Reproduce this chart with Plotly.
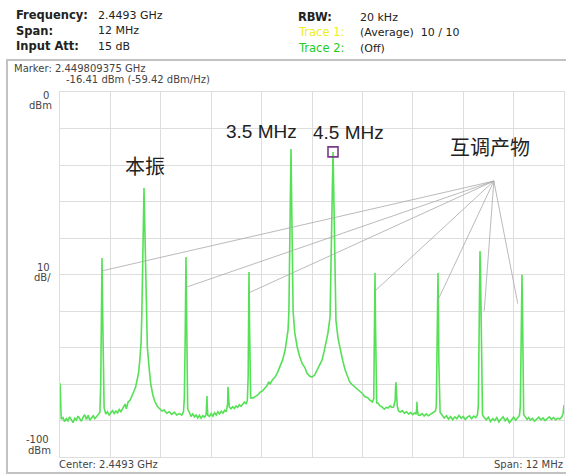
import plotly.graph_objects as go

# ---------------- data ----------------
center_ghz = 2.4493
span_mhz = 12

# spectrum trace: frequency offset from centre (MHz) and level (dBm)
freq_mhz = [
    -6.00, -5.99, -5.97, -5.93, -5.89, -5.85, -5.81, -5.77, -5.73, -5.69,
    -5.65, -5.61, -5.57, -5.53, -5.49, -5.45, -5.41, -5.37, -5.33, -5.29,
    -5.25, -5.21, -5.17, -5.13, -5.09, -5.05, -5.03, -5.015, -5.00, -4.985,
    -4.97, -4.95, -4.91, -4.87, -4.83, -4.79, -4.75, -4.71, -4.67, -4.63,
    -4.59, -4.55, -4.51, -4.47, -4.45, -4.42, -4.38, -4.33, -4.28, -4.24,
    -4.20, -4.16, -4.13, -4.10, -4.07, -4.05, -4.03, -4.01, -4.00, -3.99,
    -3.97, -3.95, -3.92, -3.88, -3.84, -3.79, -3.74, -3.68, -3.62, -3.57,
    -3.52, -3.46, -3.40, -3.34, -3.28, -3.22, -3.16, -3.10, -3.06, -3.04,
    -3.02, -3.01, -3.00, -2.99, -2.98, -2.96, -2.92, -2.88, -2.84, -2.80,
    -2.76, -2.72, -2.68, -2.64, -2.60, -2.56, -2.52, -2.505, -2.50, -2.495,
    -2.48, -2.44, -2.40, -2.36, -2.32, -2.28, -2.24, -2.20, -2.16, -2.12,
    -2.08, -2.04, -2.01, -2.00, -1.99, -1.97, -1.93, -1.89, -1.85, -1.81,
    -1.77, -1.73, -1.69, -1.65, -1.61, -1.57, -1.54, -1.52, -1.51, -1.50,
    -1.49, -1.48, -1.46, -1.40, -1.34, -1.29, -1.24, -1.18, -1.12, -1.07,
    -1.03, -1.00, -0.94, -0.88, -0.82, -0.76, -0.70, -0.64, -0.60, -0.57,
    -0.55, -0.53, -0.51, -0.50, -0.49, -0.47, -0.45, -0.41, -0.35, -0.29,
    -0.23, -0.17, -0.12, -0.06, 0.00, 0.06, 0.10, 0.14, 0.20, 0.24,
    0.29, 0.33, 0.38, 0.43, 0.45, 0.47, 0.49, 0.50, 0.51, 0.53,
    0.55, 0.57, 0.62, 0.67, 0.73, 0.79, 0.85, 0.90, 0.96, 1.02,
    1.08, 1.14, 1.20, 1.26, 1.32, 1.38, 1.44, 1.47, 1.48, 1.49,
    1.50, 1.51, 1.52, 1.54, 1.57, 1.62, 1.67, 1.72, 1.77, 1.81,
    1.86, 1.90, 1.94, 1.98, 1.99, 2.00, 2.01, 2.03, 2.06, 2.10,
    2.15, 2.20, 2.25, 2.30, 2.35, 2.40, 2.45, 2.48, 2.495, 2.50,
    2.505, 2.53, 2.57, 2.62, 2.67, 2.72, 2.77, 2.81, 2.86, 2.90,
    2.94, 2.96, 2.98, 2.99, 3.00, 3.01, 3.02, 3.05, 3.10, 3.15,
    3.20, 3.25, 3.30, 3.35, 3.40, 3.45, 3.50, 3.55, 3.60, 3.65,
    3.70, 3.75, 3.80, 3.85, 3.90, 3.94, 3.96, 3.98, 3.99, 4.00,
    4.01, 4.02, 4.04, 4.06, 4.10, 4.15, 4.20, 4.25, 4.30, 4.35,
    4.40, 4.45, 4.50, 4.55, 4.60, 4.65, 4.70, 4.75, 4.80, 4.85,
    4.90, 4.94, 4.96, 4.98, 4.99, 5.00, 5.01, 5.02, 5.04, 5.08,
    5.12, 5.16, 5.20, 5.25, 5.30, 5.35, 5.40, 5.45, 5.50, 5.55,
    5.60, 5.65, 5.70, 5.75, 5.80, 5.85, 5.90, 5.95, 5.98, 6.00,
]
level_dbm = [
    -79.8, -84.0, -89.6, -89.2, -90.3, -89.5, -90.1, -89.0, -89.8, -90.6,
    -89.4, -89.9, -88.8, -89.6, -90.2, -89.1, -88.4, -89.7, -88.6, -89.9,
    -89.3, -88.7, -89.5, -89.0, -88.6, -87.8, -80.0, -62.0, -45.5, -60.0,
    -78.0, -86.5, -88.2, -87.6, -88.5, -88.0, -87.3, -88.1, -87.4, -87.9,
    -87.0, -87.6, -86.7, -86.0, -85.5, -86.8, -85.0, -84.4, -83.3, -82.0,
    -80.8, -79.0, -77.0, -73.5, -68.8, -60.0, -45.0, -32.0, -26.3, -32.0,
    -45.0, -60.0, -70.0, -75.3, -80.0, -83.0, -84.8, -86.2, -86.9, -87.4,
    -87.1, -88.0, -87.6, -88.3, -87.7, -88.5, -88.1, -88.5, -87.6, -84.0,
    -68.0, -56.0, -45.2, -56.0, -70.0, -86.8, -87.8, -88.9, -88.2, -89.0,
    -88.5, -89.3, -88.6, -89.4, -88.7, -89.1, -88.3, -86.0, -83.3, -86.0,
    -88.6, -88.9, -88.1, -88.8, -87.9, -88.5, -87.6, -88.2, -87.5, -88.0,
    -87.2, -87.6, -85.5, -80.8, -84.5, -86.3, -86.8, -86.2, -86.7, -86.0,
    -86.4, -85.7, -86.1, -85.4, -85.0, -85.4, -84.6, -78.0, -62.0, -49.3,
    -62.0, -76.0, -83.8, -83.8, -83.3, -83.0, -82.3, -81.9, -81.1, -80.4,
    -79.4, -80.0, -78.8, -78.1, -76.8, -75.3, -73.4, -70.7, -67.5, -65.2,
    -60.0, -45.0, -25.0, -15.6, -25.0, -45.0, -60.0, -66.0, -70.0, -72.6,
    -74.5, -75.5, -77.0, -77.8, -78.1, -77.6, -76.6, -76.0, -74.5, -73.4,
    -71.0, -68.8, -66.0, -61.6, -50.0, -35.0, -22.0, -16.41, -22.0, -35.0,
    -50.0, -62.5, -67.5, -70.7, -73.5, -76.2, -78.3, -79.5, -80.2, -80.8,
    -81.6, -82.2, -82.6, -83.5, -83.7, -84.4, -84.9, -84.0, -74.0, -62.0,
    -49.6, -62.0, -76.0, -85.2, -85.2, -86.0, -86.3, -86.9, -86.4, -86.6,
    -86.0, -86.4, -86.3, -84.5, -81.0, -79.5, -82.0, -86.0, -87.4, -87.7,
    -87.3, -88.0, -87.6, -88.2, -87.8, -88.4, -87.9, -88.3, -86.5, -84.9,
    -87.0, -88.5, -88.6, -88.1, -88.8, -88.2, -88.7, -88.4, -88.0, -87.8,
    -87.4, -86.0, -72.0, -60.0, -49.6, -60.0, -74.0, -87.8, -88.5, -89.3,
    -88.7, -89.6, -88.9, -89.8, -89.0, -89.5, -88.6, -89.4, -88.9, -89.7,
    -89.1, -88.7, -89.5, -88.8, -89.2, -88.4, -86.0, -65.0, -50.0, -43.6,
    -48.0, -60.0, -80.0, -88.5, -89.2, -89.8, -89.1, -90.3, -89.5, -90.0,
    -89.2, -90.4, -89.6, -89.0, -90.1, -89.4, -90.6, -89.7, -89.1, -89.9,
    -89.3, -88.6, -86.0, -70.0, -58.0, -50.1, -58.0, -72.0, -88.4, -89.0,
    -89.7, -89.2, -89.9, -89.4, -90.2, -89.6, -89.1, -89.8, -89.3, -90.0,
    -89.5, -89.0, -89.7, -89.2, -89.8, -89.4, -89.6, -89.0, -88.0, -85.8,
]

# marker 1
marker_mhz = 0.5
marker_dbm = -16.41

# leader lines from the "互调产物" label to intermodulation products
imd_hub = (4.33, -24.4)
imd_target_mhz = [-5.0, -3.0, -1.5, 1.5, 3.0, 4.1, 4.9]
imd_target_dbm = [-49.0, -53.5, -55.0, -54.5, -57.0, -60.0, -58.0]

# y-axis scale labels
y_ref_dbm = 0
y_scale_db = 10
y_bottom_dbm = -100

# ---------------- layout geometry ----------------
W, H = 566, 474
ML, MR, MT, MB = 60, 2, 92, 17
PW, PH = W - ML - MR, H - MT - MB


def px(x):
    return (x - ML) / PW


def py(y):
    return 1 - (y - MT) / PH


FONT = "DejaVu Sans"

fig = go.Figure()
fig.add_trace(go.Scatter(
    x=freq_mhz, y=level_dbm, mode="lines",
    line=dict(color="#55e055", width=1.6),
    hoverinfo="skip", showlegend=False,
))
fig.add_trace(go.Scatter(
    x=[marker_mhz], y=[marker_dbm], mode="markers",
    marker=dict(symbol="square-open", size=10, color="#7a3a8c",
                line=dict(width=1.6, color="#7a3a8c")),
    hoverinfo="skip", showlegend=False,
))

shapes = []
for fx, fy in zip(imd_target_mhz, imd_target_dbm):
    shapes.append(dict(type="line", xref="x", yref="y",
                       x0=imd_hub[0], y0=imd_hub[1], x1=fx, y1=fy,
                       line=dict(color="#a8a8a8", width=0.8), layer="above"))
# instrument panel frame
shapes.append(dict(type="rect", xref="paper", yref="paper",
                   x0=px(7), x1=px(575), y0=py(473), y1=py(60),
                   line=dict(color="#c2c2c2", width=2), layer="below"))

ann = []


def text(s, x, y, size=11, color="#222222", bold=False, anchor="left",
         family=FONT):
    if bold:
        s = "<b>" + s + "</b>"
    ann.append(dict(text=s, x=px(x), y=py(y), xref="paper", yref="paper",
                    xanchor=anchor, yanchor="middle", showarrow=False,
                    font=dict(family=family, size=size, color=color)))


# header
text("Frequency:", 14, 15, 11.5, bold=True)
text(f"{center_ghz} GHz", 96, 15, 11)
text("Span:", 14, 31, 11.5, bold=True)
text(f"{span_mhz} MHz", 96, 31, 11)
text("Input Att:", 14, 46, 11.5, bold=True)
text("15 dB", 96, 46, 11)
text("RBW:", 296, 17, 11.5, bold=True)
text("20 kHz", 358, 17, 11)
text("Trace 1:", 296, 32, 11.5, color="#eeee22")
text("(Average)  10 / 10", 358, 32, 11)
text("Trace 2:", 296, 48, 11.5, color="#22cc22")
text("(Off)", 358, 48, 11)

# marker readout
text("Marker: 2.449809375 GHz", 12, 68, 10, color="#444444")
text(f"{marker_dbm} dBm (-59.42 dBm/Hz)", 64, 80, 10, color="#444444")

# y scale labels
text(f"{y_ref_dbm}", 51, 96, 10, color="#444444", anchor="right")
text("dBm", 54, 106, 10, color="#444444", anchor="right")
text(f"{y_scale_db}", 52, 267, 10, color="#444444", anchor="right")
text("dB/", 53, 277, 10, color="#444444", anchor="right")
text(f"{y_bottom_dbm}", 51, 439, 10, color="#444444", anchor="right")
text("dBm", 53, 450, 10, color="#444444", anchor="right")

# bottom
text(f"Center: {center_ghz} GHz", 57, 465, 10, color="#444444")
text(f"Span: {span_mhz} MHz", 565, 465, 10, color="#444444", anchor="right")

# chart annotations
text("3.5 MHz", 261, 131, 19, anchor="center", family="Liberation Sans")
text("4.5 MHz", 348, 132, 19, anchor="center", family="Liberation Sans")
text("本振", 145, 165, 20, anchor="center", family="Noto Sans CJK SC")
text("互调产物", 490, 147, 20, anchor="center", family="Noto Sans CJK SC")

axis_common = dict(showgrid=True, gridcolor="#dddddd", gridwidth=1,
                   zeroline=False, showticklabels=False, ticks="",
                   showline=True, linecolor="#dddddd", linewidth=1,
                   mirror=True, fixedrange=True)

fig.update_layout(
    width=W, height=H, autosize=False,
    margin=dict(l=ML, r=MR, t=MT, b=MB, pad=0),
    paper_bgcolor="white", plot_bgcolor="white",
    xaxis=dict(range=[-span_mhz / 2, span_mhz / 2], tick0=-6, dtick=1.2,
               **axis_common),
    yaxis=dict(range=[y_bottom_dbm, y_ref_dbm], tick0=-100, dtick=10,
               **axis_common),
    shapes=shapes, annotations=ann, showlegend=False,
    font=dict(family=FONT),
)

fig.write_html("out.html", config={"displayModeBar": False},
               post_script="document.body.style.margin='0';"
                           "document.body.style.overflow='hidden';")
